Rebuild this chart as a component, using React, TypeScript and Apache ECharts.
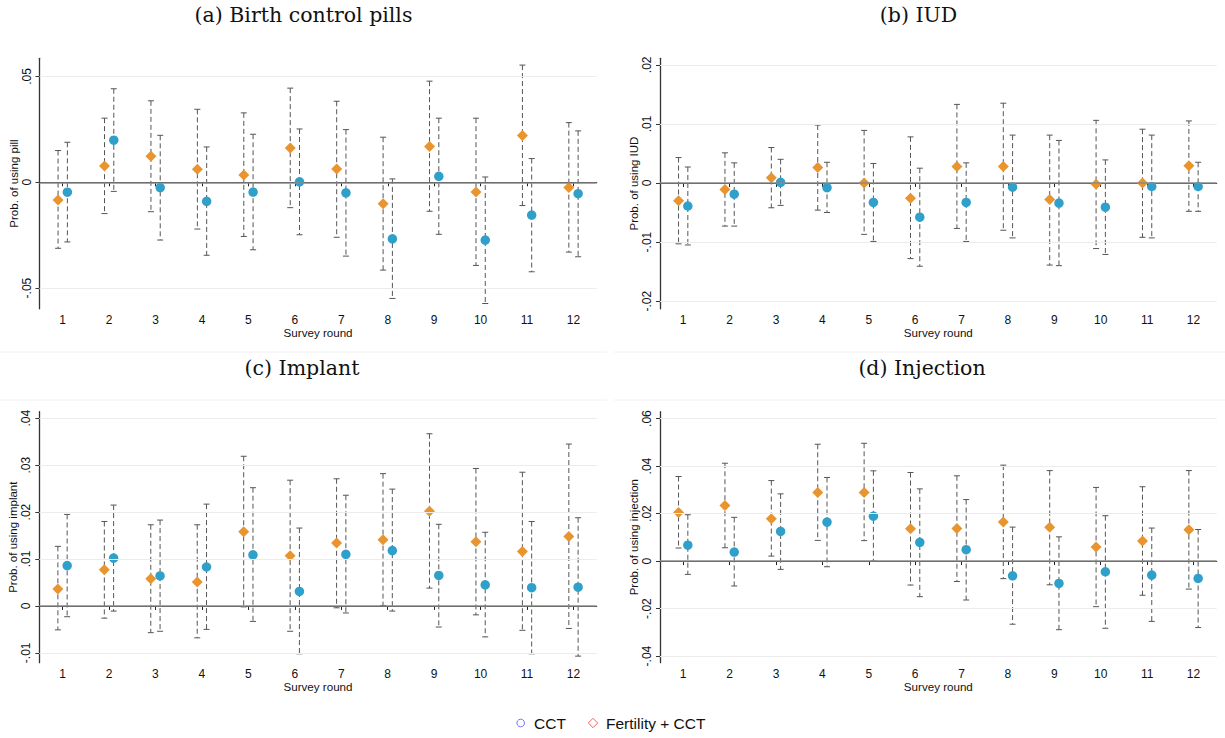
import React, { useEffect, useRef } from "react";
import * as echarts from "echarts";

const rounds = [1, 2, 3, 4, 5, 6, 7, 8, 9, 10, 11, 12];

// (a) Birth control pills
const pillFertEst = [-0.0084, 0.0077, 0.0123, 0.0062, 0.0035, 0.0162, 0.0063, -0.0101, 0.0169, -0.0046, 0.0221, -0.0025];
const pillFertLo = [-0.0312, -0.0148, -0.0139, -0.0221, -0.0256, -0.012, -0.026, -0.0415, -0.0137, -0.0393, -0.011, -0.033];
const pillFertHi = [0.015, 0.0303, 0.0385, 0.0345, 0.0328, 0.0445, 0.0383, 0.0213, 0.0478, 0.0303, 0.0554, 0.0282];
const pillCctEst = [-0.0047, 0.0199, -0.0025, -0.009, -0.0046, 0.0002, -0.005, -0.0267, 0.0028, -0.0273, -0.0155, -0.0054];
const pillCctLo = [-0.0282, -0.0043, -0.0273, -0.0345, -0.0319, -0.0248, -0.0349, -0.0549, -0.0246, -0.0573, -0.0423, -0.0352];
const pillCctHi = [0.0189, 0.0442, 0.0222, 0.0167, 0.0227, 0.0252, 0.0249, 0.0016, 0.0303, 0.0025, 0.0112, 0.0243];

// (b) IUD
const iudFertEst = [-0.003, -0.0011, 0.0009, 0.0026, 0.0, -0.0026, 0.0028, 0.0028, -0.0028, -0.0002, 0.0, 0.0029];
const iudFertLo = [-0.0103, -0.0073, -0.0042, -0.0046, -0.0087, -0.0128, -0.0077, -0.008, -0.0139, -0.0111, -0.0092, -0.0048];
const iudFertHi = [0.0043, 0.0051, 0.006, 0.0098, 0.0089, 0.0078, 0.0133, 0.0135, 0.0081, 0.0106, 0.0091, 0.0105];
const iudCctEst = [-0.0039, -0.0019, 0.0001, -0.0008, -0.0033, -0.0058, -0.0033, -0.0007, -0.0034, -0.0041, -0.0006, -0.0006];
const iudCctLo = [-0.0105, -0.0073, -0.0038, -0.005, -0.0099, -0.0141, -0.0099, -0.0093, -0.014, -0.0121, -0.0093, -0.0048];
const iudCctHi = [0.0027, 0.0034, 0.004, 0.0035, 0.0033, 0.0025, 0.0034, 0.0081, 0.0072, 0.0039, 0.0081, 0.0035];

// (c) Implant
const impFertEst = [0.0036, 0.0077, 0.0058, 0.0051, 0.0158, 0.0107, 0.0134, 0.0141, 0.0202, 0.0137, 0.0116, 0.0148];
const impFertLo = [-0.0051, -0.0026, -0.0057, -0.0068, -0.0002, -0.0054, -0.0004, 0.0001, 0.0038, -0.0019, -0.0052, -0.0048];
const impFertHi = [0.0127, 0.018, 0.0173, 0.0173, 0.0319, 0.0268, 0.0271, 0.0282, 0.0367, 0.0293, 0.0285, 0.0345];
const impCctEst = [0.0086, 0.0102, 0.0064, 0.0083, 0.0109, 0.0031, 0.011, 0.0118, 0.0065, 0.0045, 0.0039, 0.004];
const impCctLo = [-0.0023, -0.0011, -0.0054, -0.005, -0.0033, -0.0102, -0.0015, -0.0011, -0.0045, -0.0066, -0.0102, -0.0107];
const impCctHi = [0.0195, 0.0215, 0.0183, 0.0217, 0.0252, 0.0166, 0.0236, 0.0249, 0.0174, 0.0157, 0.018, 0.0188];

// (d) Injection
const injFertEst = [0.0205, 0.0234, 0.0178, 0.0289, 0.0289, 0.0136, 0.0137, 0.0165, 0.0142, 0.0059, 0.0084, 0.0132];
const injFertLo = [0.0055, 0.0056, 0.0021, 0.0087, 0.0086, -0.0101, -0.0086, -0.0074, -0.01, -0.0192, -0.0144, -0.0118];
const injFertHi = [0.0356, 0.0412, 0.0339, 0.0492, 0.0496, 0.0373, 0.0359, 0.0404, 0.0381, 0.031, 0.0313, 0.0381];
const injCctEst = [0.0067, 0.0038, 0.0125, 0.0164, 0.0189, 0.0079, 0.0048, -0.0062, -0.0094, -0.0045, -0.0059, -0.0073];
const injCctLo = [-0.0056, -0.0105, -0.0035, -0.0024, 0.0, -0.015, -0.0164, -0.0266, -0.0289, -0.0283, -0.0254, -0.028];
const injCctHi = [0.0195, 0.0184, 0.0283, 0.0352, 0.038, 0.0304, 0.0259, 0.0143, 0.0102, 0.0191, 0.0139, 0.0133];

// tick labels
const pillTicks = [-0.05, 0, 0.05];
const iudTicks = [-0.02, -0.01, 0, 0.01, 0.02];
const impTicks = [-0.01, 0, 0.01, 0.02, 0.03, 0.04];
const injTicks = [-0.04, -0.02, 0, 0.02, 0.04, 0.06];

const titles = ["(a) Birth control pills", "(b) IUD", "(c) Implant", "(d) Injection"];
const yNames = ["Prob. of using pill", "Prob. of using IUD", "Prob. of using implant", "Prob. of using injection"];
const xName = "Survey round";
const legendNames = ["CCT", "Fertility + CCT"];

const ORANGE = "#E9952F";
const BLUE = "#2FA0CA";
const BAR = "#555555";
const LABEL_FONT = "'Liberation Sans', Arial, sans-serif";
const TITLE_FONT = "'DejaVu Serif', serif";

const panels = [
  { est: [pillFertEst, pillCctEst], lo: [pillFertLo, pillCctLo], hi: [pillFertHi, pillCctHi], ticks: pillTicks, min: -0.0598, max: 0.0586 },
  { est: [iudFertEst, iudCctEst], lo: [iudFertLo, iudCctLo], hi: [iudFertHi, iudCctHi], ticks: iudTicks, min: -0.0213, max: 0.0211 },
  { est: [impFertEst, impCctEst], lo: [impFertLo, impCctLo], hi: [impFertHi, impCctHi], ticks: impTicks, min: -0.0121, max: 0.0414 },
  { est: [injFertEst, injCctEst], lo: [injFertLo, injCctLo], hi: [injFertHi, injCctHi], ticks: injTicks, min: -0.0428, max: 0.0629 },
];

const gridBoxes = [
  { left: 39.5, top: 58.3, width: 557.2, height: 250.5 },
  { left: 660, top: 58.3, width: 556.7, height: 250.5 },
  { left: 39.3, top: 411.7, width: 557.4, height: 251 },
  { left: 660, top: 411.7, width: 556.7, height: 251 },
];
const titlePos = [
  [303.5, 15],
  [918.5, 15],
  [302, 368],
  [922, 368],
];

function fmtTick(v: number): string {
  const r = Math.round(v * 100) / 100;
  if (r === 0) return "0";
  const s = r.toFixed(2);
  return s.replace("0.", ".");
}

export default function App() {
  const ref = useRef<HTMLDivElement>(null);
  useEffect(() => {
    document.body.style.margin = "0";
    if (!ref.current) return;
    const chart = echarts.init(ref.current, undefined, { renderer: "svg" });

    const grid: any[] = [];
    const xAxis: any[] = [];
    const yAxis: any[] = [];
    const series: any[] = [];

    panels.forEach((p, i) => {
      grid.push({ ...gridBoxes[i], containLabel: false });
      xAxis.push({
        type: "value",
        gridIndex: i,
        min: 0.5,
        max: 12.5,
        name: xName,
        nameLocation: "middle",
        nameGap: 18,
        nameTextStyle: { fontFamily: LABEL_FONT, fontSize: 11.6, color: "#111" },
        axisLine: { show: true, lineStyle: { color: "#222", width: 1.2 } },
        axisTick: { show: true, length: 4, lineStyle: { color: "#222" }, customValues: rounds },
        axisLabel: { fontFamily: LABEL_FONT, fontSize: 12, color: "#111", margin: 5, customValues: rounds, formatter: (v: number) => String(v) },
        splitLine: { show: false },
      });
      yAxis.push({
        type: "value",
        gridIndex: i,
        min: p.min,
        max: p.max,
        name: yNames[i],
        nameLocation: "middle",
        nameGap: 20,
        nameTextStyle: { fontFamily: LABEL_FONT, fontSize: 11.5, color: "#111" },
        axisLine: { show: true, lineStyle: { color: "#333", width: 1.3 } },
        axisTick: { show: true, length: 4, lineStyle: { color: "#333" }, customValues: p.ticks },
        axisLabel: { fontFamily: LABEL_FONT, fontSize: 12, color: "#111", rotate: 90, margin: 7, customValues: p.ticks, formatter: (v: number) => fmtTick(v) },
        splitLine: { show: false },
      });

      // gridlines + zero line
      series.push({
        type: "line",
        xAxisIndex: i,
        yAxisIndex: i,
        data: [],
        silent: true,
        z: 1,
        markLine: {
          silent: true,
          symbol: ["none", "none"],
          label: { show: false },
          animation: false,
          data: p.ticks.map((t) =>
            t === 0
              ? { yAxis: t, lineStyle: { color: "#8a8a8a", width: 1.5, type: "solid" } }
              : { yAxis: t, lineStyle: { color: "#ececec", width: 1, type: "solid" } }
          ),
        },
      });

      // error bars
      [0, 1].forEach((g) => {
        const off = g === 0 ? -0.1 : 0.1;
        series.push({
          type: "custom",
          xAxisIndex: i,
          yAxisIndex: i,
          z: 2,
          silent: true,
          data: rounds.map((r, k) => [r + off, p.lo[g][k], p.hi[g][k]]),
          encode: { x: 0, y: [1, 2] },
          renderItem: (params: any, api: any) => {
            const x = api.value(0);
            const a = api.coord([x, api.value(2)]);
            const b = api.coord([x, api.value(1)]);
            const cap = 3;
            return {
              type: "group",
              children: [
                { type: "line", shape: { x1: a[0], y1: a[1], x2: b[0], y2: b[1] }, style: { stroke: BAR, lineWidth: 1, lineDash: [5, 3] } },
                { type: "line", shape: { x1: a[0] - cap, y1: a[1], x2: a[0] + cap, y2: a[1] }, style: { stroke: BAR, lineWidth: 1 } },
                { type: "line", shape: { x1: b[0] - cap, y1: b[1], x2: b[0] + cap, y2: b[1] }, style: { stroke: BAR, lineWidth: 1 } },
              ],
            };
          },
        });
      });

      // points
      series.push({
        type: "scatter",
        name: legendNames[1],
        xAxisIndex: i,
        yAxisIndex: i,
        z: 3,
        symbol: "diamond",
        symbolSize: 11,
        itemStyle: { color: ORANGE, opacity: 1 },
        data: rounds.map((r, k) => [r - 0.1, p.est[0][k]]),
      });
      series.push({
        type: "scatter",
        name: legendNames[0],
        xAxisIndex: i,
        yAxisIndex: i,
        z: 3,
        symbol: "circle",
        symbolSize: 9.5,
        itemStyle: { color: BLUE, opacity: 1 },
        data: rounds.map((r, k) => [r + 0.1, p.est[1][k]]),
      });
    });

    const graphic: any[] = [];
    titles.forEach((t, i) => {
      graphic.push({
        type: "text",
        x: titlePos[i][0],
        y: titlePos[i][1],
        style: { text: t, font: `20.5px ${TITLE_FONT}`, fill: "#111", textAlign: "center", textVerticalAlign: "middle" },
      });
    });
    // faint region separators
    [352, 400].forEach((yy) => {
      graphic.push({ type: "line", shape: { x1: 0, y1: yy, x2: 607, y2: yy }, style: { stroke: "#f0f0f0", lineWidth: 1 } });
      graphic.push({ type: "line", shape: { x1: 614, y1: yy, x2: 1225, y2: yy }, style: { stroke: "#f0f0f0", lineWidth: 1 } });
    });
    // legend
    graphic.push({ type: "circle", shape: { cx: 520.7, cy: 723, r: 3.8 }, style: { fill: "none", stroke: "#7373ff", lineWidth: 1 } });
    graphic.push({ type: "text", x: 534, y: 723, style: { text: legendNames[0], font: `15.5px ${LABEL_FONT}`, fill: "#111", textVerticalAlign: "middle" } });
    graphic.push({ type: "polygon", shape: { points: [[593, 718.3], [597.7, 723], [593, 727.7], [588.3, 723]] }, style: { fill: "none", stroke: "#ff5b5b", lineWidth: 1 } });
    graphic.push({ type: "text", x: 606, y: 723, style: { text: legendNames[1], font: `15.5px ${LABEL_FONT}`, fill: "#111", textVerticalAlign: "middle" } });

    chart.setOption({
      animation: false,
      backgroundColor: "#ffffff",
      grid,
      xAxis,
      yAxis,
      series,
      graphic,
    });
    return () => chart.dispose();
  }, []);
  return <div ref={ref} style={{ width: 1225, height: 738 }} />;
}
